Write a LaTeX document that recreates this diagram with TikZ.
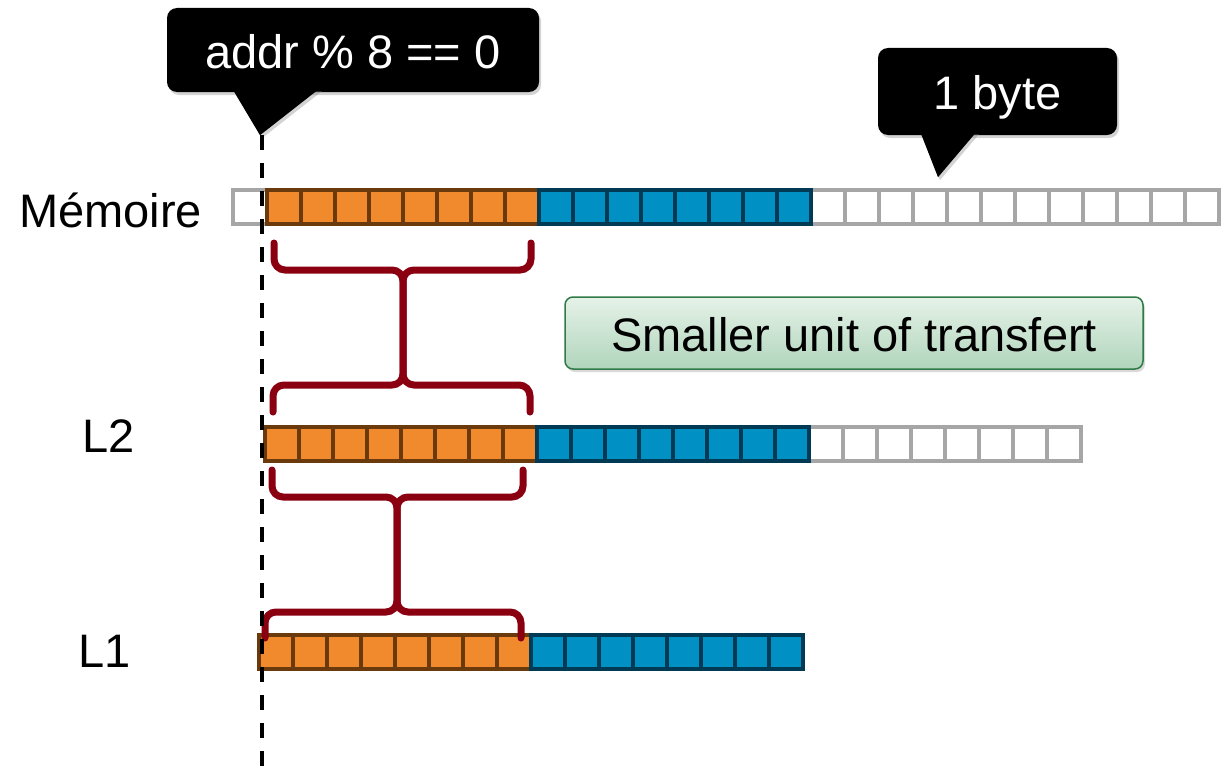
\documentclass[tikz,border=0pt]{standalone}
\usepackage{fontspec}
\setmainfont{Liberation Sans}
\usetikzlibrary{                          % TikZ libraries
                calc,                     % .
                shadows}
\usepackage{xcolor}
\definecolor{byteorange}{HTML}{F08A2C}
\definecolor{orangeline}{HTML}{6A3A0C}
\definecolor{byteblue}{HTML}{0090C4}
\definecolor{blueline}{HTML}{003A55}
\definecolor{freeline}{HTML}{A6A6A6}
\definecolor{bracered}{HTML}{8A0010}
\definecolor{noteline}{HTML}{2F7A45}
\definecolor{notetop}{HTML}{E6F2E8}
\definecolor{notebottom}{HTML}{B0D5BC}

\begin{document}
\begin{tikzpicture}[x=1pt,y=-1pt,
                    font=\fontsize{47}{56}\selectfont
                    ]
                % define styles
\tikzset{byte/.style={rectangle,
                       inner sep=0,
                       outer sep=0,
                       minimum size=34pt,
                       line width=3.8pt,
                       },
         byte-o/.style={byte, draw=orangeline, fill=byteorange},
         byte-b/.style={byte, draw=blueline, fill=byteblue},
         byte-w/.style={byte, draw=freeline, fill=white},
         brace/.style={draw=bracered,
                       line width=7pt,
                       rounded corners=11pt,
                       line cap=round,
                       },
         tipbox/.style={fill=black,
                       text=white,
                       rounded corners=10pt,
                       inner sep=0,
                       text height=37pt,
                       text depth=0pt,
                       drop shadow={shadow xshift=2pt, shadow yshift=-3pt, opacity=0.35},
                       },
         tipptr/.style={fill=black,
                       drop shadow={shadow xshift=2pt, shadow yshift=-3pt, opacity=0.35},
                       },
         note/.style={draw=noteline,
                       line width=1.5pt,
                       top color=notetop,
                       bottom color=notebottom,
                       rounded corners=8pt,
                       inner sep=0,
                       text height=37pt,
                       text depth=0pt,
                       drop shadow={shadow xshift=2pt, shadow yshift=-3pt, opacity=0.3},
                       }
}

\useasboundingbox (0,0) rectangle (1221,776);

% free bytes
\node[byte-w] (m-w0) at (250,207) {};
\foreach \i in {1,...,12}
    \node[byte-w] (m-w\i) at ({811+34*\i-17},207) {};
\foreach \i in {1,...,8}
    \node[byte-w] (l2-w\i) at ({809+34*\i-17},444) {};

% the two lines of each level
\foreach \row/\x/\y in {m/267/207, l2/265/444, l1/259/652}
{
    \foreach \i in {1,...,8}
        \node[byte-o] (\row-o\i) at ({\x+34*\i-17},\y) {};
    \foreach \i in {1,...,8}
        \node[byte-b] (\row-b\i) at ({\x+272+34*\i-17},\y) {};
}

% labels
\node[anchor=base] (m-lbl)  at (110.5,227) {Mémoire};
\node[anchor=base] (l2-lbl) at (109,452)   {L2};
\node[anchor=base] (l1-lbl) at (105,667)   {L1};

% braces memory -> L2
\draw[brace] ([shift={(7,19)}]m-o1.south west) |- ([shift={(0,46)}]m-o4.south east)
             -- ([shift={(2,-42)}]l2-o4.north east) -| ([shift={(8,-15)}]l2-o1.north west);
\draw[brace] ([shift={(-8,19)}]m-o8.south east) |- ([shift={(0,46)}]m-o4.south east)
             -- ([shift={(2,-42)}]l2-o4.north east) -| ([shift={(-7,-15)}]l2-o8.north east);

% braces L2 -> L1
\draw[brace] ([shift={(7,9)}]l2-o1.south west) |- ([shift={(-4,36)}]l2-o4.south east)
             -- ([shift={(2,-23)}]l1-o4.north east) -| ([shift={(6,3)}]l1-o1.north west);
\draw[brace] ([shift={(-14,9)}]l2-o8.south east) |- ([shift={(-4,36)}]l2-o4.south east)
             -- ([shift={(2,-23)}]l1-o4.north east) -| ([shift={(-10,3)}]l1-o8.north east);

% callouts
\node[tipbox, minimum width=372pt, minimum height=84pt] (addr) at (353,50) {addr \% 8 == 0};
\fill[tipptr] ([shift={(-121,-4)}]addr.south) -- ([shift={(-93,43)}]addr.south)
              -- ([shift={(-33,-4)}]addr.south) -- cycle;

\node[tipbox, minimum width=239pt, minimum height=87pt] (byte) at (997.5,91.5) {1 byte};
\fill[tipptr] ([shift={(-77.5,-4)}]byte.south) -- ([shift={(-59.5,42)}]byte.south)
              -- ([shift={(-20.5,-4)}]byte.south) -- cycle;

\node[note, minimum width=578pt, minimum height=72pt] (unit) at (854,333) {Smaller unit of transfert};

% aligned address
\coordinate (align-top) at ([shift={(-91,43)}]addr.south);
\draw[line width=3.5pt, dash pattern=on 15pt off 13pt] (align-top) -- (align-top |- 0,776);

\end{tikzpicture}
\end{document}
